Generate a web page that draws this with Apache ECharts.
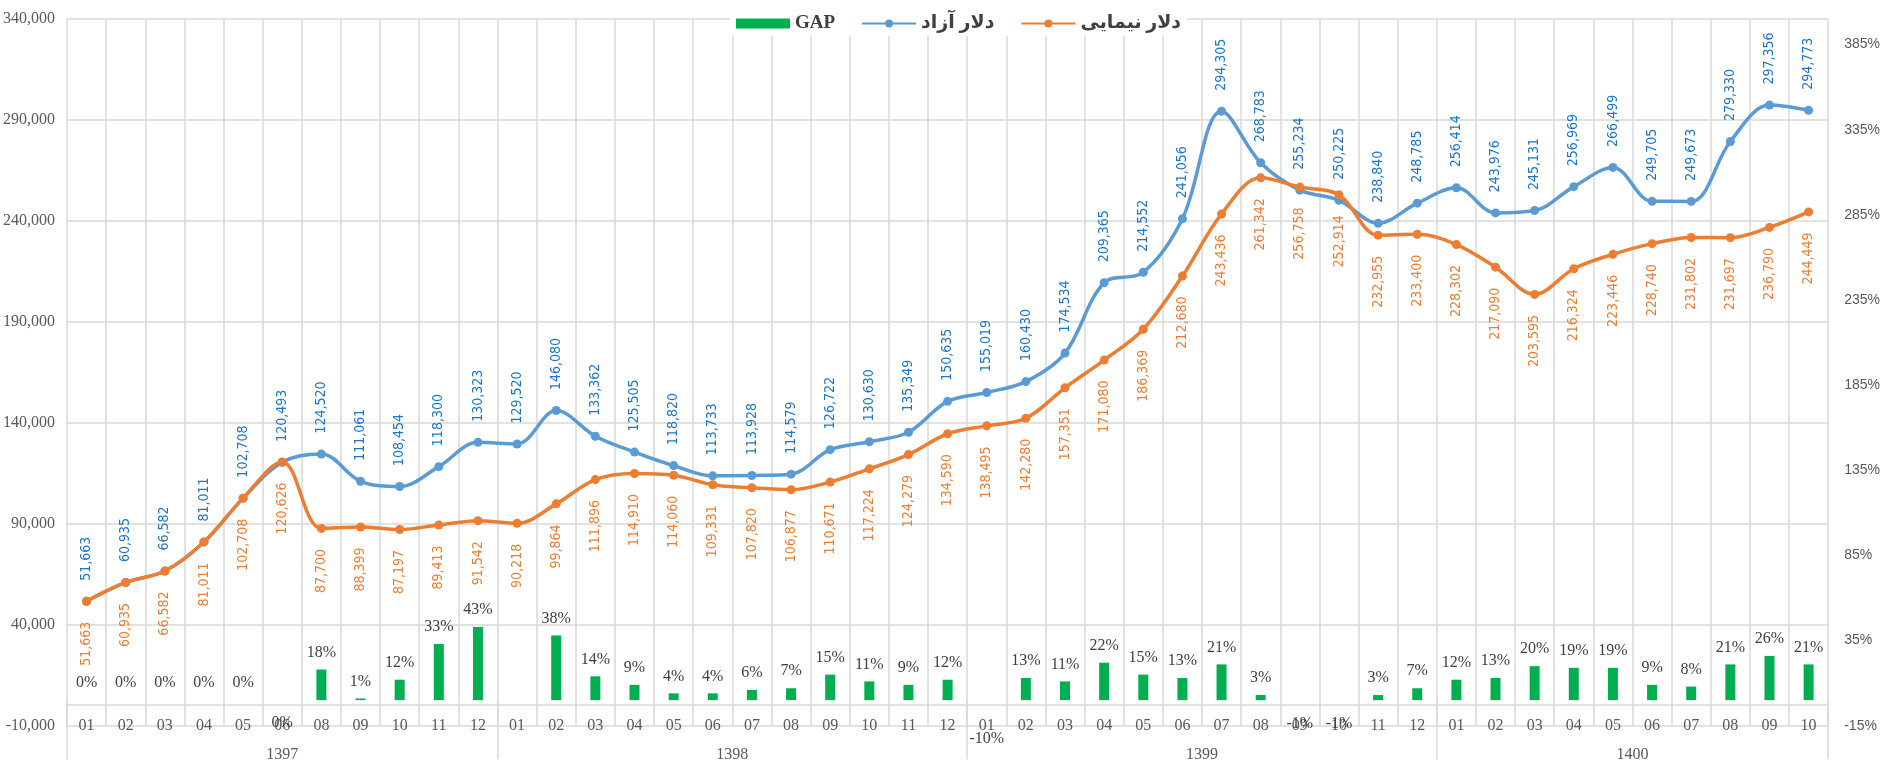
<!DOCTYPE html>
<html>
<head>
<meta charset="utf-8">
<script src="https://cdn.jsdelivr.net/npm/echarts@6/dist/echarts.min.js"></script>
<style>
  html, body { margin: 0; padding: 0; background: #fff; }
  #container { width: 1883px; height: 763px; }
</style>
</head>
<body>
<div id="container"></div>
<script>
var dom = document.getElementById('container');
var myChart = echarts.init(dom, null, { renderer: 'canvas' });

// month labels per year (1397 has no 07)
const years = ['1397', '1398', '1399', '1400'];
const months1397 = ['01', '02', '03', '04', '05', '06', '08', '09', '10', '11', '12'];
const months1398 = ['01', '02', '03', '04', '05', '06', '07', '08', '09', '10', '11', '12'];
const months1399 = ['01', '02', '03', '04', '05', '06', '07', '08', '09', '10', '11', '12'];
const months1400 = ['01', '02', '03', '04', '05', '06', '07', '08', '09', '10'];
const yearMonths = [months1397, months1398, months1399, months1400];

// دلار آزاد
const freeDollar = [
  51663, 60935, 66582, 81011, 102708, 120493, 124520, 111061, 108454, 118300, 130323,
  129520, 146080, 133362, 125505, 118820, 113733, 113928, 114579, 126722, 130630, 135349, 150635,
  155019, 160430, 174534, 209365, 214552, 241056, 294305, 268783, 255234, 250225, 238840, 248785,
  256414, 243976, 245131, 256969, 266499, 249705, 249673, 279330, 297356, 294773
];
// دلار نیمایی
const nimaDollar = [
  51663, 60935, 66582, 81011, 102708, 120626, 87700, 88399, 87197, 89413, 91542,
  90218, 99864, 111896, 114910, 114060, 109331, 107820, 106877, 110671, 117224, 124279, 134590,
  138495, 142280, 157351, 171080, 186369, 212680, 243436, 261342, 256758, 252914, 232955, 233400,
  228302, 217090, 203595, 216324, 223446, 228740, 231802, 231697, 236790, 244449
];
// GAP (%)
const gapPct = [
  0, 0, 0, 0, 0, -0.1, 18, 1, 12, 33, 43,
  null, 38, 14, 9, 4, 4, 6, 7, 15, 11, 9, 12,
  -10, 13, 11, 22, 15, 13, 21, 3, -1, -1, 3, 7,
  12, 13, 20, 19, 19, 9, 8, 21, 26, 21
];

const monthLabels = [].concat(...yearMonths);

// year axis: half-month steps so group centres and boundaries fall on points
const yearAxisData = [];
const yearBounds = new Set();
let start = 0;
for (let i = 0; i <= monthLabels.length * 2; i++) yearAxisData.push('');
yearMonths.forEach((m, i) => {
  yearBounds.add(start * 2);
  yearAxisData[start * 2 + m.length] = years[i];
  start += m.length;
});
yearBounds.add(start * 2);

const gridColor = '#D9D9D9';
const axisText = '#595959';
const serif = "'Liberation Serif', 'Times New Roman', serif";
const labelFont = "'DejaVu Sans Condensed', 'DejaVu Sans', sans-serif";

const gapData = gapPct.map(v => {
  if (v === null) return null;
  if (v < 0) {
    return { value: v, itemStyle: { color: 'rgba(0,0,0,0)' }, label: { position: 'bottom', distance: 14 } };
  }
  return v;
});

var option = {
  backgroundColor: '#fff',
  animation: false,
  legend: {
    left: 730,
    top: 11,
    backgroundColor: '#fff',
    padding: [3, 6],
    itemGap: 26,
    itemWidth: 54,
    itemHeight: 10,
    textStyle: { fontFamily: "'Liberation Serif', 'DejaVu Sans', serif", fontWeight: 'bold', fontSize: 19, color: '#404040' },
    data: [
      { name: 'GAP', icon: 'rect' },
      { name: 'دلار آزاد' },
      { name: 'دلار نیمایی' }
    ]
  },
  grid: { left: 64, right: 50, top: 19, bottom: 37.3 },
  xAxis: [{
    type: 'category',
    data: monthLabels,
    position: 'bottom',
    offset: -21.4,
    axisLine: { lineStyle: { color: gridColor, width: 1.5 } },
    axisTick: { length: 31, lineStyle: { color: gridColor, width: 1.5 } },
    axisLabel: { color: axisText, fontFamily: serif, fontSize: 16, margin: 13, interval: 0 },
    splitLine: { show: true, interval: 0, lineStyle: { color: gridColor, width: 1.5 } }
  }, {
    type: 'category',
    data: yearAxisData,
    boundaryGap: false,
    position: 'bottom',
    offset: -21.4,
    axisLine: { show: false },
    axisTick: { length: 59, interval: idx => yearBounds.has(idx), lineStyle: { color: gridColor, width: 1.5 } },
    axisLabel: { color: axisText, fontFamily: serif, fontSize: 16, margin: 42, interval: 0 },
    splitLine: { show: false }
  }],
  yAxis: [{
    type: 'value',
    min: -10000,
    max: 340000,
    interval: 50000,
    axisLine: { show: false },
    axisTick: { show: false },
    axisLabel: { color: axisText, fontFamily: serif, fontSize: 16, margin: 12, formatter: v => v.toLocaleString('en-US') },
    splitLine: { lineStyle: { color: gridColor, width: 1.5 } }
  }, {
    type: 'value',
    min: -15,
    max: 400,
    interval: 50,
    axisLine: { show: false },
    axisTick: { show: false },
    axisLabel: { color: axisText, fontFamily: "'Liberation Sans', Arial, sans-serif", fontSize: 14, margin: 16, showMaxLabel: false, formatter: v => v + '%' },
    splitLine: { show: false }
  }],
  series: [{
    name: 'GAP',
    type: 'bar',
    yAxisIndex: 1,
    barWidth: 10,
    itemStyle: { color: '#00B050' },
    label: {
      show: true,
      position: 'top',
      distance: 9,
      color: '#404040',
      fontFamily: serif,
      fontSize: 16,
      formatter: p => `${Math.round(p.value)}%`
    },
    data: gapData
  }, {
    name: 'دلار آزاد',
    type: 'line',
    smooth: 0.35,
    symbol: 'circle',
    symbolSize: 9,
    lineStyle: { width: 3.5, color: '#5B9BD5' },
    itemStyle: { color: '#5B9BD5' },
    label: {
      show: true,
      position: 'top',
      distance: 16,
      rotate: 90,
      align: 'left',
      verticalAlign: 'middle',
      color: '#1B75C8',
      fontFamily: labelFont,
      fontSize: 14,
      formatter: p => p.value.toLocaleString('en-US')
    },
    z: 3,
    data: freeDollar
  }, {
    name: 'دلار نیمایی',
    type: 'line',
    smooth: 0.35,
    symbol: 'circle',
    symbolSize: 9,
    lineStyle: { width: 3.5, color: '#ED7D31' },
    itemStyle: { color: '#ED7D31' },
    label: {
      show: true,
      position: 'bottom',
      distance: 16,
      rotate: 90,
      align: 'right',
      verticalAlign: 'middle',
      color: '#ED7D31',
      fontFamily: labelFont,
      fontSize: 14,
      formatter: p => p.value.toLocaleString('en-US')
    },
    z: 4,
    data: nimaDollar
  }]
};

myChart.setOption(option);
window.addEventListener('resize', myChart.resize);
</script>
</body>
</html>
